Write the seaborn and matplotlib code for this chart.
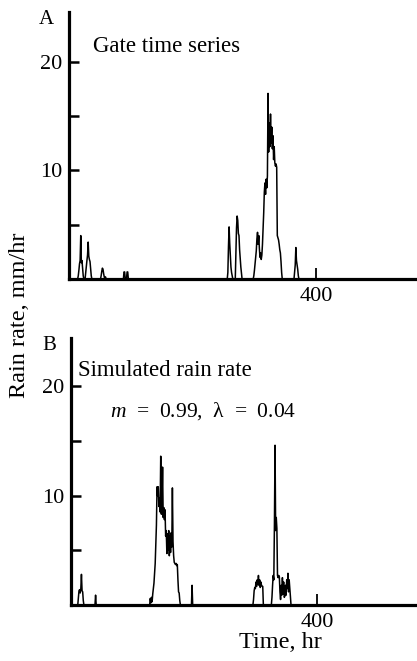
import numpy as np
import pandas as pd
import matplotlib
matplotlib.use("Agg")
import matplotlib.pyplot as plt
import seaborn as sns

# --- datos (horas, mm/hr) ---
n_horas = 564

# A: serie GATE
gate_ev1_inicio, gate_ev1 = 15, [0.3, 0.8, 1.4, 1.7, 4.0, 1.5, 1.7, 1.0, 0.3]
gate_ev2_inicio, gate_ev2 = 27, [0.6, 1.3, 1.7, 2.2, 3.4, 2.1, 1.8, 1.6, 0.9, 0.3]
gate_ev3_inicio, gate_ev3 = 52, [0.3, 0.7, 1.0, 0.9, 0.5, 0.2, 0.0, 0.2]
gate_ev4_inicio, gate_ev4 = 89, [0.65, 0.65]
gate_ev5_inicio, gate_ev5 = 94, [0.65, 0.65]
gate_ev6_inicio, gate_ev6 = 257, [0.6, 3.0, 4.8, 3.3, 2.2, 1.1, 0.6, 0.3]
gate_ev7_inicio, gate_ev7 = 270, [2.2, 4.7, 5.8, 5.4, 4.2, 4.0, 2.7, 1.9, 1.1, 0.5]
gate_ev8_inicio, gate_ev8 = 299, [0.3, 0.8, 1.4, 2.0, 2.6, 3.7, 4.3, 3.2, 4.0, 2.8,
                                  2.0, 2.4, 1.8, 2.2, 3.2, 4.7, 6.1, 8.0, 8.85, 7.8,
                                  9.2, 8.4, 9.5, 17.1, 11.7, 14.4, 12.2, 15.2, 12.5, 14.0,
                                  12.0, 13.2, 11.0, 12.2, 10.7, 10.4, 10.6, 10.3, 4.0, 3.8,
                                  3.6, 3.2, 2.7, 2.4, 1.6, 0.6]
gate_ev9_inicio, gate_ev9 = 365, [0.6, 1.3, 2.9, 1.7, 1.3, 0.9, 0.3]

# B: lluvia simulada
sim_ev1_inicio, sim_ev1 = 12, [0.6, 1.3, 1.4, 1.1, 1.5, 2.8, 1.3, 1.2, 0.4]
sim_ev2_inicio, sim_ev2 = 40, [0.9]
sim_ev3_inicio, sim_ev3 = 129, [0.6, 0.2, 0.7, 0.3, 1.0, 1.5, 2.0, 2.9, 3.8, 5.5,
                                7.3, 10.8, 10.0, 10.8, 9.0, 9.8, 8.5, 13.6, 8.3, 9.3,
                                12.6, 8.0, 8.9, 7.8, 8.7, 6.3, 6.8, 4.7, 6.5, 5.0,
                                6.8, 4.5, 6.3, 4.8, 6.6, 5.3, 10.7, 5.8, 4.5, 3.9,
                                3.8, 3.7, 3.8, 3.6, 3.7, 2.3, 1.2, 1.1, 0.4]
sim_ev4_inicio, sim_ev4 = 197, [1.8]
sim_ev5_inicio, sim_ev5 = 297, [0.5, 1.3, 1.6, 1.5, 2.1, 1.7, 2.3, 1.9, 2.7, 1.8,
                                2.3, 1.6, 2.1, 1.8, 1.7, 1.7]
sim_ev6_inicio, sim_ev6 = 327, [0.7, 1.8, 2.7, 2.3, 7.3, 14.6, 6.8, 8.0, 7.0, 2.7,
                                2.5, 2.7, 2.6, 1.2, 0.5, 1.8, 0.9, 2.5, 1.0, 2.1,
                                0.7, 0.8, 1.8, 0.9, 2.3, 1.5, 2.9, 1.2, 2.3, 1.6, 0.8]


def armar_serie(eventos):
    lluvia = np.zeros(n_horas)
    for inicio, valores in eventos:
        lluvia[inicio:inicio + len(valores)] = valores
    return pd.DataFrame({'hora': np.arange(n_horas), 'lluvia': lluvia})


df_gate = armar_serie([(gate_ev1_inicio, gate_ev1), (gate_ev2_inicio, gate_ev2),
                       (gate_ev3_inicio, gate_ev3), (gate_ev4_inicio, gate_ev4),
                       (gate_ev5_inicio, gate_ev5), (gate_ev6_inicio, gate_ev6),
                       (gate_ev7_inicio, gate_ev7), (gate_ev8_inicio, gate_ev8),
                       (gate_ev9_inicio, gate_ev9)])
df_sim = armar_serie([(sim_ev1_inicio, sim_ev1), (sim_ev2_inicio, sim_ev2),
                      (sim_ev3_inicio, sim_ev3), (sim_ev4_inicio, sim_ev4),
                      (sim_ev5_inicio, sim_ev5), (sim_ev6_inicio, sim_ev6)])

sns.set_style("ticks")
plt.rcParams['font.family'] = ['Liberation Serif', 'DejaVu Serif']
plt.rcParams['mathtext.fontset'] = 'custom'
plt.rcParams['mathtext.it'] = 'Liberation Serif:italic'
plt.rcParams['mathtext.rm'] = 'Liberation Serif'

W, H = 417, 661
fig = plt.figure(figsize=(W / 100, H / 100), dpi=100)
ax_a = fig.add_axes([69 / W, 1 - 279 / H, (W - 69) / W, (279 - 12) / H])
ax_b = fig.add_axes([71 / W, 1 - 605 / H, (W - 71) / W, (605 - 338) / H])

for ax, df, ytop in [(ax_a, df_gate, 24.6), (ax_b, df_sim, 24.4)]:
    sns.lineplot(data=df, x='hora', y='lluvia', ax=ax, color='black',
                 linewidth=1.1, estimator=None, errorbar=None)
    ax.set_xlim(0, n_horas - 1)
    ax.set_ylim(0, ytop)
    sns.despine(ax=ax)
    for lado in ['left', 'bottom']:
        ax.spines[lado].set_linewidth(2.3)
        ax.spines[lado].set_color('black')
    ax.set_yticks([5, 10, 15, 20])
    ax.set_yticklabels(['', '10', '', '20'])
    ax.set_xticks([400])
    ax.set_xticklabels(['400'])
    ax.tick_params(axis='y', direction='in', length=7, width=1.8, labelsize=16,
                   pad=5, color='black', labelcolor='black')
    ax.tick_params(axis='x', direction='in', length=8, width=1.3, labelsize=16,
                   pad=6, color='black', labelcolor='black')
    ax.set_xlabel('')
    ax.set_ylabel('')
    ax.patch.set_alpha(0)


def texto(x, y, s, **kw):
    fig.text(x / W, 1 - y / H, s, color='black', **kw)


texto(46, 19, 'A', ha='center', va='center', fontsize=15)
texto(93, 47, 'Gate time series', ha='left', va='center', fontsize=16.5)
texto(49, 345, 'B', ha='center', va='center', fontsize=15)
texto(78, 370, 'Simulated rain rate', ha='left', va='center', fontsize=16.5)
texto(110, 411, r'$m$  =  0.99,  λ  =  0.04', ha='left', va='center', fontsize=15.5)
texto(20, 315, 'Rain rate, mm/hr', ha='center', va='center', rotation=90, fontsize=17.5)
texto(280, 642, 'Time, hr', ha='center', va='center', fontsize=17.5)

plt.savefig('out.png', dpi=100)
